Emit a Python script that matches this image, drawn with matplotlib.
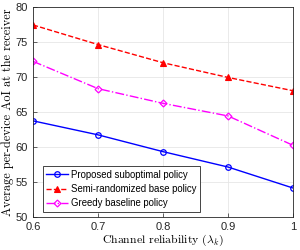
import matplotlib
matplotlib.use('Agg')
import matplotlib.pyplot as plt

lam = [0.6, 0.7, 0.8, 0.9, 1.0]
proposed = [63.7, 61.7, 59.3, 57.1, 54.1]
semi_rand = [77.4, 74.6, 72.0, 69.9, 68.0]
greedy = [72.2, 68.3, 66.2, 64.4, 60.2]
xticks = [0.6, 0.7, 0.8, 0.9, 1.0]
xticklabels = ['0.6', '0.7', '0.8', '0.9', '1']
yticks = [50, 55, 60, 65, 70, 75, 80]

plt.rcParams.update({'font.size': 8, 'font.family': 'Liberation Sans',
                     'mathtext.fontset': 'cm', 'axes.unicode_minus': False})
fig = plt.figure(figsize=(3, 2.5), dpi=100)
ax = fig.add_axes([0.11, 0.133, 0.867, 0.84])

ax.plot(lam, proposed, '-o', color='#0000ff', lw=1.0, ms=4, mfc='none', mew=0.9,
        label='Proposed suboptimal policy')
ax.plot(lam, semi_rand, '--^', color='#ff0000', lw=1.0, ms=4.5, mfc='#ff0000', mew=0.8,
        label='Semi-randomized base policy')
ax.plot(lam, greedy, '-.D', color='#ff00ff', lw=1.0, ms=3.5, mfc='none', mew=0.9,
        label='Greedy baseline policy')

ax.set_xlim(0.6, 1.0)
ax.set_ylim(50, 80)
ax.set_xticks(xticks)
ax.set_xticklabels(xticklabels)
ax.set_yticks(yticks)
ax.tick_params(direction='in', length=3, width=0.5, colors='#262626', labelcolor='#262626')
ax.grid(True, color='#e6e6e6', lw=0.6)
ax.set_axisbelow(True)
for s in ax.spines.values():
    s.set_color('#262626')
    s.set_linewidth(0.6)

ax.set_xlabel(r'Channel reliability ($\lambda_k$)', family='cmr10', fontsize=8.5, labelpad=1)
ax.set_ylabel('Average per-device AoI at the receiver', family='cmr10', fontsize=8.8, labelpad=1)

leg = ax.legend(loc='lower left', bbox_to_anchor=(0.03, 0.015), fancybox=False,
                edgecolor='#262626', framealpha=1, borderpad=0.35, labelspacing=0.45,
                handlelength=2.3, handletextpad=0.3, borderaxespad=0.2, fontsize=6.9)
leg.get_frame().set_linewidth(0.6)

fig.savefig('out.png', dpi=100)
